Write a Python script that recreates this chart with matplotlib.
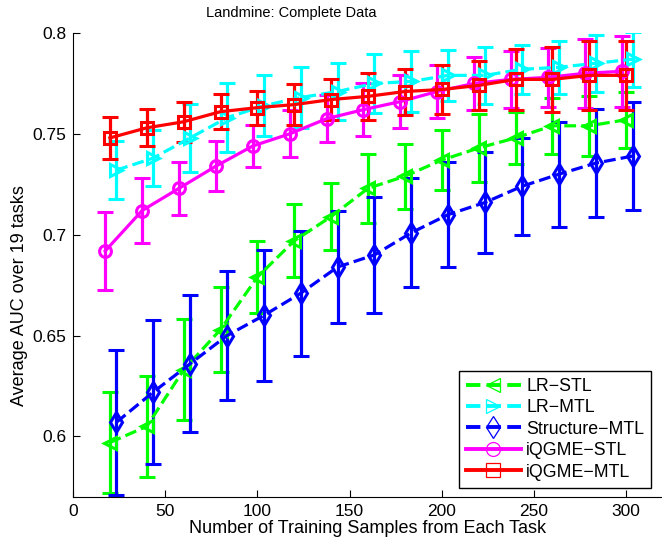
import numpy as np
import matplotlib.pyplot as plt
from matplotlib.lines import Line2D

plt.rcParams['font.family'] = ['Liberation Sans', 'DejaVu Sans']

n_samples = [20, 40, 60, 80, 100, 120, 140, 160, 180, 200, 220, 240, 260, 280, 300]

lr_stl = [0.597, 0.605, 0.633, 0.653, 0.679, 0.697, 0.709, 0.723, 0.729, 0.737, 0.743, 0.748, 0.754, 0.754, 0.757]
lr_stl_err = [0.025, 0.025, 0.025, 0.021, 0.018, 0.018, 0.0165, 0.017, 0.016, 0.015, 0.017, 0.013, 0.014, 0.015, 0.014]

lr_mtl = [0.732, 0.738, 0.748, 0.758, 0.764, 0.768, 0.771, 0.775, 0.776, 0.779, 0.779, 0.782, 0.783, 0.785, 0.787]
lr_mtl_err = [0.0145, 0.014, 0.017, 0.017, 0.015, 0.015, 0.014, 0.0146, 0.015, 0.0125, 0.014, 0.012, 0.013, 0.014, 0.0137]

struct_mtl = [0.607, 0.622, 0.636, 0.650, 0.660, 0.671, 0.684, 0.690, 0.701, 0.710, 0.716, 0.724, 0.730, 0.7355, 0.739]
struct_mtl_err = [0.036, 0.0355, 0.034, 0.032, 0.0325, 0.031, 0.0276, 0.0287, 0.027, 0.026, 0.025, 0.024, 0.026, 0.0267, 0.0267]

iqgme_stl = [0.692, 0.712, 0.723, 0.734, 0.744, 0.750, 0.7575, 0.762, 0.766, 0.771, 0.775, 0.777, 0.778, 0.780, 0.781]
iqgme_stl_err = [0.0195, 0.0163, 0.013, 0.0124, 0.0105, 0.0116, 0.0117, 0.013, 0.013, 0.013, 0.013, 0.014, 0.0146, 0.017, 0.0175]

iqgme_mtl = [0.748, 0.753, 0.756, 0.761, 0.763, 0.7645, 0.767, 0.7686, 0.771, 0.772, 0.774, 0.777, 0.777, 0.779, 0.779]
iqgme_mtl_err = [0.0106, 0.0092, 0.01, 0.0088, 0.0084, 0.01, 0.0103, 0.0116, 0.0114, 0.0122, 0.012, 0.015, 0.016, 0.017, 0.017]

labels = ['LR\u2212STL', 'LR\u2212MTL', 'Structure\u2212MTL', 'iQGME\u2212STL', 'iQGME\u2212MTL']

# (values, errors, color, marker, marker size, linestyle, x shift so bars don't overlap)
series = [
    (lr_stl, lr_stl_err, (0, 1, 0), '<', 9, '--', 0.0),
    (lr_mtl, lr_mtl_err, (0, 1, 1), '>', 9, '--', 3.5),
    (struct_mtl, struct_mtl_err, (0, 0, 1), 'd', 10, '--', 3.5),
    (iqgme_stl, iqgme_stl_err, (1, 0, 1), 'o', 8.5, '-', -2.5),
    (iqgme_mtl, iqgme_mtl_err, (1, 0, 0), 's', 8, '-', 0.0),
]

fig = plt.figure(figsize=(6.62, 5.44), dpi=100)
ax = fig.add_axes([73 / 662, 47 / 544, 590 / 662, 464 / 544])

x = np.array(n_samples, dtype=float)
handles = []
for (vals, errs, col, mk, ms, ls, dx), lab in zip(series, labels):
    eb = ax.errorbar(x + dx, vals, yerr=errs, color=col, ls=ls, lw=2.3,
                     marker=mk, ms=ms, mfc='none', mec=col, mew=2.2,
                     capsize=6, capthick=2.3, elinewidth=2.3)
    eb[2][0].set_linestyle('-')
    handles.append(Line2D([], [], color=col, ls=ls, lw=2.8, marker=mk,
                          ms=ms + 1.5, mfc='none', mec=col, mew=0.9))

ax.set_xlim(0, 320)
ax.set_ylim(0.57, 0.8)
ax.set_xticks([0, 50, 100, 150, 200, 250, 300])
ax.set_yticks([0.6, 0.65, 0.7, 0.75, 0.8])
ax.set_yticklabels(['0.6', '0.65', '0.7', '0.75', '0.8'])
ax.tick_params(direction='in', length=5, labelsize=12.5, width=0.8, pad=5)
ax.spines['top'].set_visible(False)
ax.spines['right'].set_visible(False)

ax.set_xlabel('Number of Training Samples from Each Task', fontsize=13, labelpad=1)
ax.set_ylabel('Average AUC over 19 tasks', fontsize=13)
ax.yaxis.set_label_coords(-0.077, 0.435)
fig.text(291 / 662, 1 - 13 / 544, 'Landmine: Complete Data', ha='center', va='center', fontsize=10.5)

leg = ax.legend(handles, labels, loc='lower right', bbox_to_anchor=(0.98, 0.02),
                fontsize=12.8, handlelength=3.1, handletextpad=0.3, labelspacing=0.25,
                borderpad=0.4, borderaxespad=0, fancybox=False, framealpha=1, edgecolor='black')
leg.get_frame().set_linewidth(1.0)

plt.savefig('out.png', dpi=100)
